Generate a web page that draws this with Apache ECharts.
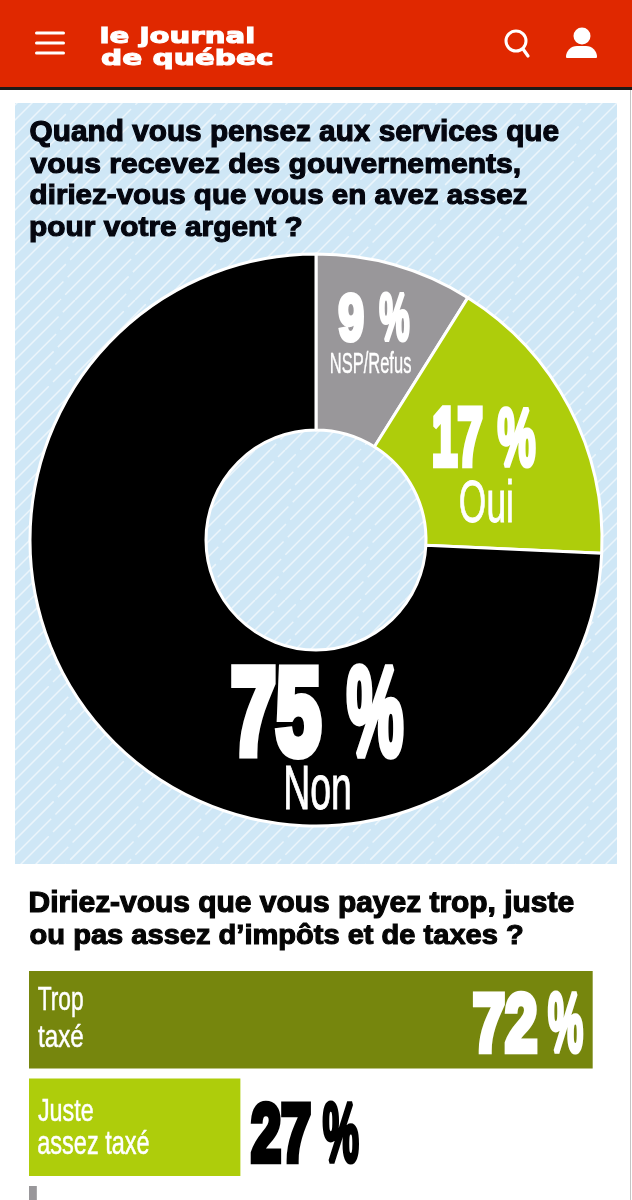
<!DOCTYPE html>
<html><head><meta charset="utf-8">
<style>html,body{margin:0;padding:0;background:#fff}#c{width:632px;height:1200px}</style>
<script src="https://cdn.jsdelivr.net/npm/echarts@6/dist/echarts.min.js"></script>
</head><body><div id="c"></div>
<script>
// ---- data ----
const pieNames = ['NSP/Refus', 'Oui', 'Non'];
const pieValues = [9, 17, 75];
const barNames = ['Trop\ntaxé', 'Juste\nassez taxé', ''];
const barValues = [72, 27, 1];
const question1 = ['Quand vous pensez aux services que', 'vous recevez des gouvernements,', 'diriez-vous que vous en avez assez', 'pour votre argent ?'];
const question2 = ['Diriez-vous que vous payez trop, juste', 'ou pas assez d’impôts et de taxes ?'];
const logoLines = ['le journal', 'de québec'];

// ---- style ----
const RED = '#e02800', LIME = '#aecd0b', OLIVE = '#76860d', GREY = '#99979a', PANEL = '#cfe7f6';
const NARROW = '"Liberation Sans Narrow","Liberation Sans",sans-serif';
const WIDE = '"DejaVu Sans",sans-serif';

const mctx = document.createElement('canvas').getContext('2d');
// Place a text so its inked box fills [x0,x1] x [top,bottom]
function inkText(text, x0, x1, top, bottom, opt) {
  const o = Object.assign({ size: 100, weight: 'bold', family: NARROW, fill: '#fff', lw: 0 }, opt);
  const font = o.weight + ' ' + o.size + 'px ' + o.family;
  mctx.font = font; mctx.textBaseline = 'middle'; mctx.textAlign = 'left';
  const m = mctx.measureText(text);
  const inkW = m.actualBoundingBoxLeft + m.actualBoundingBoxRight;
  const inkH = m.actualBoundingBoxAscent + m.actualBoundingBoxDescent;
  const sx = (x1 - x0) / (inkW + o.lw), sy = (bottom - top) / (inkH + o.lw);
  return {
    type: 'text', silent: true, z: 20,
    x: x0 + (m.actualBoundingBoxLeft + o.lw / 2) * sx,
    y: top + (m.actualBoundingBoxAscent + o.lw / 2) * sy,
    scaleX: sx, scaleY: sy,
    style: {
      text: text, font: font, fill: o.fill, align: 'left', verticalAlign: 'middle',
      stroke: o.lw ? o.fill : null, lineWidth: o.lw, lineJoin: 'round'
    }
  };
}

// seamless hatch tile for the panel
function hatchTile() {
  const s = 150, cv = document.createElement('canvas');
  cv.width = s; cv.height = s;
  const g = cv.getContext('2d');
  g.fillStyle = PANEL; g.fillRect(0, 0, s, s);
  g.strokeStyle = 'rgba(255,255,255,0.6)'; g.lineWidth = 1.5;
  const step = 15, period = s * Math.SQRT2 / 2;
  for (let k = -s; k < s; k += step) {
    const m = ((k % s) + s) % s;
    g.setLineDash([period - 6, 6]);
    g.lineDashOffset = (m * 37) % period;
    g.beginPath();
    g.moveTo(k, s);
    g.lineTo(k + s, 0);
    g.stroke();
  }
  return cv;
}

// inked boxes of the donut labels: number x-range, percent x-range, y-range; name x-range, y-range
const pieLabelBoxes = [
  { num: [338, 364], pct: [379, 410], vy: [292, 343], nx: [331, 411], ny: [352, 374] },
  { num: [433, 483], pct: [497, 536], vy: [405, 468], nx: [460, 512], ny: [478, 523] },
  { num: [231, 322], pct: [346, 404], vy: [663, 760], nx: [286, 350], ny: [765, 810] }
];
const NUM_LW = 8, PCT_LW = 6;

const graphics = [
  { type: 'rect', z: -5, silent: true, shape: { x: 0, y: 0, width: 632, height: 87 }, style: { fill: RED } },
  { type: 'rect', z: -5, silent: true, shape: { x: 0, y: 87, width: 632, height: 3 }, style: { fill: '#1e1a18' } },
  { type: 'rect', z: -5, silent: true, shape: { x: 630, y: 90, width: 1, height: 1110 }, style: { fill: '#c4c4c4' } },
  { type: 'rect', z: -5, silent: true, shape: { x: 15, y: 103, width: 602, height: 761 }, style: { fill: { image: hatchTile(), repeat: 'repeat' } } }
];
[33, 43, 53].forEach(y => graphics.push({ type: 'rect', z: 5, silent: true, shape: { x: 35, y: y - 1.5, width: 30, height: 3, r: 1.5 }, style: { fill: '#fff' } }));
graphics.push(
  { type: 'circle', z: 5, silent: true, shape: { cx: 516, cy: 41, r: 10 }, style: { fill: 'none', stroke: '#fff', lineWidth: 3 } },
  { type: 'line', z: 5, silent: true, shape: { x1: 523, y1: 49, x2: 528, y2: 56 }, style: { stroke: '#fff', lineWidth: 3.2, lineCap: 'round' } },
  { type: 'circle', z: 5, silent: true, shape: { cx: 582, cy: 36, r: 8.5 }, style: { fill: '#fff' } },
  { type: 'rect', z: 5, silent: true, shape: { x: 566, y: 46, width: 31, height: 12, r: [11, 11, 1, 1] }, style: { fill: '#fff' } }
);
graphics.push(inkText(logoLines[0], 101, 254, 25, 48, { family: WIDE, size: 40, lw: 2 }));
graphics.push(inkText(logoLines[1], 101, 273, 47, 70, { family: WIDE, size: 40, lw: 2 }));

const q1x = [559, 520, 527, 302], q1y = [[119, 147], [152, 179], [183, 210], [216, 242]];
question1.forEach((t, i) => graphics.push(inkText(t, 30, q1x[i], q1y[i][0], q1y[i][1], { fill: '#04060f', size: 60, lw: 2.4 })));
const q2x = [574, 523], q2y = [[890, 918], [923, 950]];
question2.forEach((t, i) => graphics.push(inkText(t, 30, q2x[i], q2y[i][0], q2y[i][1], { fill: '#050505', size: 60, lw: 2.4 })));

pieValues.forEach((v, i) => {
  const b = pieLabelBoxes[i];
  graphics.push(inkText(String(v), b.num[0], b.num[1], b.vy[0], b.vy[1], { lw: NUM_LW }));
  graphics.push(inkText('%', b.pct[0], b.pct[1], b.vy[0], b.vy[1], { lw: PCT_LW }));
  graphics.push(inkText(pieNames[i], b.nx[0], b.nx[1], b.ny[0], b.ny[1], { weight: 'normal', lw: 1.5 }));
});

// bar-label offsets relative to the bar's left edge / end / centre line
const barTextBoxes = [
  { lines: [[9, 54, -32.5, -2.5], [9, 54, 3.5, 27.5]], num: [-120, -55], pct: [-45, -9], vy: [-29.5, 34.5], fill: '#fff' },
  { lines: [[9, 64, -29, -6], [9, 120, 2, 27]], num: [10, 71], pct: [82, 119], vy: [-27, 37], fill: '#000' }
];

const chart = echarts.init(document.getElementById('c'), null, { renderer: 'canvas' });
chart.setOption({
  animation: false,
  backgroundColor: '#fff',
  graphic: graphics,
  grid: { left: 29, top: 966, width: 595, height: 322.5, outerBoundsMode: 'none', containLabel: false },
  xAxis: { type: 'value', min: 0, max: 76, show: false },
  yAxis: { type: 'category', inverse: true, data: barNames, show: false },
  series: [
    {
      type: 'pie', center: [316, 540], radius: [110, 286], startAngle: 90, z: 2, silent: true,
      label: { show: false }, labelLine: { show: false },
      itemStyle: { borderColor: '#fff', borderWidth: 3 },
      data: pieNames.map((n, i) => ({ name: n, value: pieValues[i], itemStyle: { color: [GREY, LIME, '#000'][i] } }))
    },
    {
      type: 'bar', barWidth: 97.5, silent: true, clip: false,
      data: barValues.map((v, i) => ({ value: v, itemStyle: { color: [OLIVE, LIME, GREY][i] } }))
    },
    {
      type: 'custom', coordinateSystem: 'cartesian2d', silent: true, clip: false, z: 5,
      data: barValues.map((v, i) => [v, i]),
      renderItem: function (params, api) {
        const i = api.value(1), val = api.value(0);
        if (i > 1) return { type: 'group', children: [] };
        const left = api.coord([0, i])[0], end = api.coord([val, i]), cy = end[1];
        const b = barTextBoxes[i];
        const kids = barNames[i].split('\n').map((t, k) => {
          const l = b.lines[k];
          return inkText(t, left + l[0], left + l[1], cy + l[2], cy + l[3], { weight: 'normal', lw: 1.5 });
        });
        kids.push(inkText(String(val), end[0] + b.num[0], end[0] + b.num[1], cy + b.vy[0], cy + b.vy[1], { lw: NUM_LW, fill: b.fill }));
        kids.push(inkText('%', end[0] + b.pct[0], end[0] + b.pct[1], cy + b.vy[0], cy + b.vy[1], { lw: PCT_LW, fill: b.fill }));
        return { type: 'group', children: kids };
      }
    }
  ]
});
</script></body></html>
